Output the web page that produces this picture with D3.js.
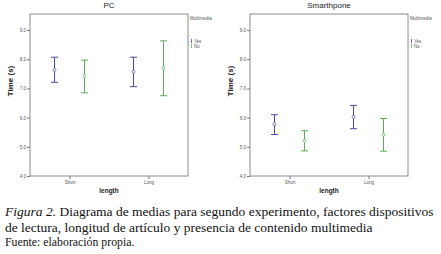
<!DOCTYPE html>
<html lang="es">
<head>
  <meta charset="utf-8">
  <title>Diagrama de medias</title>
  <script src="https://cdn.jsdelivr.net/npm/d3@7"></script>
  <style>
    body { margin: 0; background: #fff; }
    svg { display: block; }
  </style>
</head>
<body>
  <svg id="chart" width="441" height="254"></svg>

  <script type="text/javascript">
    var lengths = ["Short", "Long"];
    var multimedia = ["Yes", "No"];
    var yTicks = [4.0, 5.0, 6.0, 7.0, 8.0, 9.0];
    var colors = { Yes: "#4a4aa2", No: "#5dab57" };

    // mean, lower, upper (95% CI)
    var pcMeans = { Short: { Yes: 7.63, No: 7.42 }, Long: { Yes: 7.57, No: 7.70 } };
    var pcLow = { Short: { Yes: 7.21, No: 6.85 }, Long: { Yes: 7.06, No: 6.75 } };
    var pcHigh = { Short: { Yes: 8.07, No: 7.97 }, Long: { Yes: 8.07, No: 8.63 } };

    var phoneMeans = { Short: { Yes: 5.77, No: 5.21 }, Long: { Yes: 6.03, No: 5.42 } };
    var phoneLow = { Short: { Yes: 5.42, No: 4.86 }, Long: { Yes: 5.62, No: 4.85 } };
    var phoneHigh = { Short: { Yes: 6.10, No: 5.55 }, Long: { Yes: 6.42, No: 5.97 } };

    var sansFont = "'Liberation Sans', Arial, sans-serif";
    var serifFont = "'Liberation Serif', 'Times New Roman', 'DejaVu Serif', serif";

    var svg = d3.select("#chart");

    function drawPanel(left, title, means, low, high) {
      var w = 158, h = 162, top = 14;
      var g = svg.append("g").attr("transform", "translate(" + left + "," + top + ")")
        .attr("font-family", sansFont);

      var x = d3.scalePoint().domain(lengths).range([0, w]).padding(0.5);
      var xSub = d3.scalePoint().domain(multimedia).range([-15, 15]);
      var y = d3.scaleLinear().domain([4, 9.55]).range([h, 0]);

      g.append("rect")
        .attr("x", 0).attr("y", 0).attr("width", w).attr("height", h)
        .style("fill", "none").style("stroke", "#8c8c8c").style("stroke-width", 1);

      var yAxis = g.append("g")
        .call(d3.axisLeft(y).tickValues(yTicks).tickFormat(d3.format(".1f")).tickSize(3).tickSizeOuter(0));
      yAxis.attr("font-family", sansFont);
      yAxis.select(".domain").remove();
      yAxis.selectAll("line").style("stroke", "#777");
      yAxis.selectAll("text").style("font-size", "4.5px").style("fill", "#555").attr("x", -4);

      var xAxis = g.append("g").attr("transform", "translate(0," + h + ")")
        .call(d3.axisBottom(x).tickSize(3).tickSizeOuter(0));
      xAxis.attr("font-family", sansFont);
      xAxis.select(".domain").remove();
      xAxis.selectAll("line").style("stroke", "#777");
      xAxis.selectAll("text").style("font-size", "4.5px").style("fill", "#555").attr("y", 5);

      g.append("text")
        .attr("x", w / 2).attr("y", -6)
        .attr("text-anchor", "middle")
        .style("font-size", "8px").style("fill", "#222")
        .text(title);

      g.append("text")
        .attr("transform", "translate(" + (-17) + "," + (h / 2 - 14) + ") rotate(-90)")
        .attr("text-anchor", "middle")
        .style("font-size", "8px").style("font-weight", "bold").style("fill", "#222")
        .text("Time (s)");

      g.append("text")
        .attr("x", w / 2).attr("y", h + 17)
        .attr("text-anchor", "middle")
        .style("font-size", "6.5px").style("font-weight", "bold").style("fill", "#222")
        .text("length");

      // error bars
      lengths.forEach(function (len) {
        multimedia.forEach(function (m) {
          var cx = x(len) + xSub(m);
          var col = colors[m];
          var bar = g.append("g").style("stroke", col).style("stroke-width", 1).style("fill", "none");
          bar.append("line").attr("x1", cx).attr("x2", cx).attr("y1", y(low[len][m])).attr("y2", y(high[len][m]));
          bar.append("line").attr("x1", cx - 3.5).attr("x2", cx + 3.5).attr("y1", y(low[len][m])).attr("y2", y(low[len][m]));
          bar.append("line").attr("x1", cx - 3.5).attr("x2", cx + 3.5).attr("y1", y(high[len][m])).attr("y2", y(high[len][m]));
          bar.append("circle").attr("cx", cx).attr("cy", y(means[len][m])).attr("r", 1.5)
            .style("fill", "#fff").style("stroke-width", 0.7);
        });
      });

      // legend
      var lg = g.append("g").attr("transform", "translate(" + (w + 2) + ",0)");
      lg.append("text").attr("x", 0).attr("y", 6)
        .style("font-size", "4.5px").style("fill", "#555").text("Multimedia");
      multimedia.forEach(function (m, i) {
        var ly = 27 + i * 5;
        lg.append("line").attr("x1", 1.5).attr("x2", 1.5).attr("y1", ly - 2).attr("y2", ly + 2)
          .style("stroke", colors[m]).style("stroke-width", 0.8);
        lg.append("text").attr("x", 4).attr("y", ly + 1.6)
          .style("font-size", "4.5px").style("fill", "#555").text(m);
      });
    }

    drawPanel(30, "PC", pcMeans, pcLow, pcHigh);
    drawPanel(250, "Smarthpone", phoneMeans, phoneLow, phoneHigh);

    // caption
    var cap = svg.append("text").attr("font-family", serifFont).attr("x", 5).attr("y", 216)
      .style("font-size", "13.5px").style("fill", "#111");
    cap.append("tspan").style("font-style", "italic").text("Figura 2.");
    cap.append("tspan").text(" Diagrama de medias para segundo experimento, factores dispositivos");
    svg.append("text").attr("font-family", serifFont).attr("x", 5).attr("y", 232)
      .style("font-size", "13.5px").style("fill", "#111")
      .text("de lectura, longitud de artículo y presencia de contenido multimedia");
    svg.append("text").attr("font-family", serifFont).attr("x", 5).attr("y", 246)
      .style("font-size", "11.8px").style("fill", "#111")
      .text("Fuente: elaboración propia.");
  </script>
</body>
</html>
